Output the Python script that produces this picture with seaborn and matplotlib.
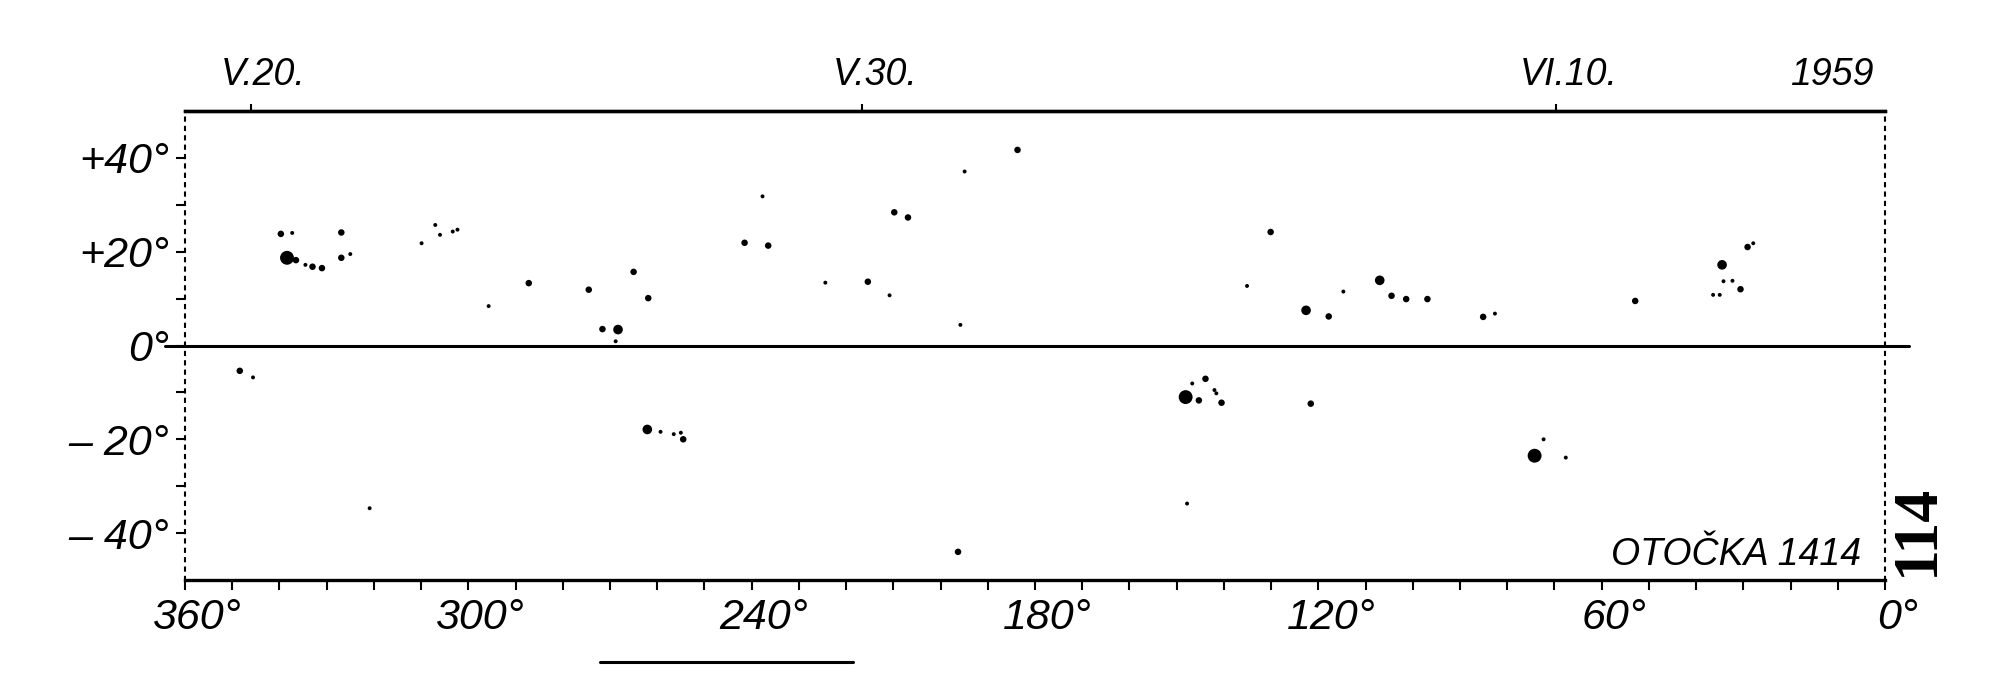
import numpy as np
import pandas as pd
import matplotlib
matplotlib.use("Agg")
import matplotlib.pyplot as plt
import matplotlib.transforms as mtransforms
from matplotlib import font_manager
from matplotlib.lines import Line2D
import seaborn as sns

# Sunspots: longitude (deg), latitude (deg), size class 1..4
lon = [339.7, 337.3, 326.9, 338.4, 336.5, 334.5, 333.0, 331.0, 326.9, 325.0,
       309.9, 307.0, 306.0, 303.3, 302.3, 295.7, 287.2, 274.5, 265.0, 261.9,
       271.6, 268.3, 268.8, 241.5, 236.5, 237.7, 224.4, 215.4, 210.8, 209.8,
       206.9, 195.8, 194.9, 183.7, 130.1, 135.1, 122.6, 117.8, 114.7, 107.0,
       104.5, 101.4, 96.9, 85.1, 82.6, 52.9, 34.5, 29.1, 27.9, 34.2,
       32.3, 30.6, 36.4, 35.0,
       348.4, 345.6, 320.9, 262.1, 259.3, 256.5, 255.0, 254.5, 148.1, 146.7,
       143.9, 145.3, 142.0, 141.6, 140.5, 121.6, 147.8, 196.3, 74.2, 72.3,
       67.6]
lat = [23.8, 24.0, 24.1, 18.7, 18.2, 17.2, 16.8, 16.5, 18.7, 19.5,
       21.8, 25.7, 23.6, 24.3, 24.7, 8.4, 13.3, 11.9, 15.7, 10.1,
       3.5, 3.4, 0.9, 21.9, 21.3, 31.8, 13.4, 13.6, 10.7, 28.4,
       27.3, 4.4, 37.1, 41.7, 24.2, 12.7, 7.5, 6.2, 11.5, 13.9,
       10.6, 9.9, 9.9, 6.1, 6.8, 9.5, 17.2, 21.0, 21.8, 13.7,
       13.8, 12.0, 10.8, 10.8,
       -5.4, -6.8, -34.7, -17.9, -18.4, -18.9, -18.6, -20.0, -11.0, -8.1,
       -7.1, -11.7, -9.5, -10.2, -12.2, -12.4, -33.7, -44.0, -23.5, -20.0,
       -23.9]
size_class = [2, 1, 2, 4, 2, 1, 2, 2, 2, 1,
              1, 1, 1, 1, 1, 1, 2, 2, 2, 2,
              2, 3, 1, 2, 2, 1, 1, 2, 1, 2,
              2, 1, 1, 2, 2, 1, 3, 2, 1, 3,
              2, 2, 2, 2, 1, 2, 3, 2, 1, 1,
              1, 2, 1, 1,
              2, 1, 1, 3, 1, 1, 1, 2, 4, 1,
              2, 2, 1, 1, 2, 2, 1, 2, 4, 1,
              1]

xtick_pos = [360, 300, 240, 180, 120, 60, 0]
xtick_text = ["360°", "300°", "240°", "180°", "120°", "60°", "0°"]
ytick_pos = [40, 20, 0, -20, -40]
ytick_text = ["+40°", "+20°", "0°", "– 20°", "– 40°"]
date_lon = [346.0, 216.6, 69.7, 14.0]
date_text = ["V.20.", "V.30.", "VI.10.", "1959"]
rotation_text = "OTOČKA 1414"
page_text = "114"

installed = {f.name for f in font_manager.fontManager.ttflist}
sans = "Liberation Sans" if "Liberation Sans" in installed else "DejaVu Sans"
serif = "Liberation Serif" if "Liberation Serif" in installed else "DejaVu Serif"

sns.set_style("ticks", {"axes.edgecolor": "black", "xtick.color": "black",
                        "ytick.color": "black", "text.color": "black"})
plt.rcParams["font.family"] = [sans, "DejaVu Sans"]
plt.rcParams["font.style"] = "italic"

fig = plt.figure(figsize=(20, 6.81), dpi=100)
ax = fig.add_axes([0.0925, 0.1483, 0.85, 0.6887])

spots = pd.DataFrame({"lon": lon, "lat": lat, "size": size_class})
sns.scatterplot(data=spots, x="lon", y="lat", size="size",
                sizes={1: 8, 2: 22, 3: 48, 4: 100}, color="black",
                edgecolor="none", legend=False, ax=ax)

ax.set_xlim(360, 0)
ax.set_ylim(-50, 50)
ax.set_xlabel("")
ax.set_ylabel("")

# equator
ax.axhline(0, xmin=-0.012, xmax=1.014, color="black", lw=2.2, clip_on=False)

for s in ["top", "bottom"]:
    ax.spines[s].set_linewidth(2.4)
for s in ["left", "right"]:
    ax.spines[s].set_linestyle((0, (1.5, 3)))
    ax.spines[s].set_linewidth(1.5)

ax.set_xticks(xtick_pos, xtick_text)
ax.set_xticks(np.arange(0, 361, 10), minor=True)
ax.set_yticks(ytick_pos, ytick_text)
ax.set_yticks(np.arange(-40, 41, 10), minor=True)
ax.tick_params(axis="x", which="both", direction="out", length=7, width=1.5,
               bottom=True, top=False, labelsize=31, pad=6)
ax.tick_params(axis="y", which="both", direction="out", length=6.5, width=1.5,
               left=True, right=False, labelsize=31, pad=5)

top = ax.secondary_xaxis("top")
top.set_xticks(date_lon, date_text)
top.tick_params(direction="out", length=5, width=1.5, labelsize=27, pad=8)
top.spines["top"].set_linewidth(2.4)
last = top.xaxis.get_major_ticks()[-1]
last.tick1line.set_visible(False)
last.tick2line.set_visible(False)

# hand lettering sits a little right of each tick
shift = mtransforms.ScaledTranslation(9 / 72, 0, fig.dpi_scale_trans)
for lab in ax.get_xticklabels() + top.get_xticklabels():
    lab.set_transform(lab.get_transform() + shift)

ax.text(5.0, -46.8, rotation_text, ha="right", va="baseline", fontsize=27)

fig.text(0.959, 0.222, page_text, rotation=90, ha="center", va="center",
         family=serif, style="normal", weight="bold", fontsize=46)
fig.add_artist(Line2D([0.300, 0.4265], [0.028, 0.028], color="black", lw=2.2))

fig.savefig("out.png", dpi=100, facecolor="white")
